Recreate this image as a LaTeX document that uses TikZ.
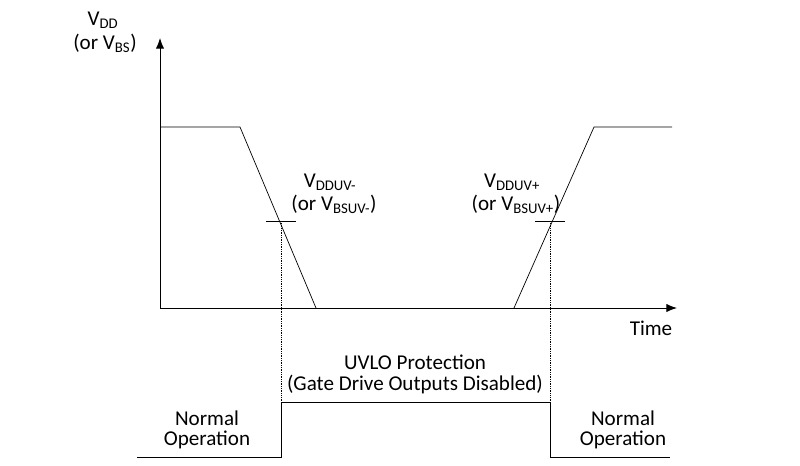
\documentclass[tikz,border=0pt]{standalone}
\usepackage{fontspec}
\setmainfont{Carlito}
\usetikzlibrary{arrows.meta}
\begin{document}
\begin{tikzpicture}[x=0.03cm,y=-0.03cm,
  lbl/.style={inner sep=0pt,font=\fontsize{18}{21}\selectfont},
  axis/.style={thick,-{Latex[length=9pt,width=7pt]}},
  wave/.style={line width=0.6pt},
  guide/.style={densely dotted,line width=0.5pt}]
			\useasboundingbox (0,0) rectangle (800,465);
			% axes
			\coordinate (o) at (160,308);
			\draw[axis] (o) -- (160,38);
			\draw[axis] (o) -- (677,308);
			\node[lbl] (vdd) at (103,20) {V\textsubscript{DD}};
			\node[lbl] (vbs) at (105,43) {(or V\textsubscript{BS})};
			\node[lbl] (time) at (651,328) {Time};

			% supply waveform
			\draw[wave] (160,127) -- (240,127) -- (316,308);
			\draw[wave] (514,308) -- (594,127) -- (672,127);
			\coordinate (thm) at (281,221);
			\coordinate (thp) at (550,221);
			\draw[wave] (266,221) -- (296,221);
			\draw[wave] (535,221) -- (565,221);
			\node[lbl] (uvm) at (330,182) {V\textsubscript{DDUV-}};
			\node[lbl] (uvmb) at (334,204) {(or V\textsubscript{BSUV-})};
			\node[lbl] (uvp) at (512,182) {V\textsubscript{DDUV+}};
			\node[lbl] (uvpb) at (516,204) {(or V\textsubscript{BSUV+})};

			% protection state
			\coordinate (up) at (281,402);
			\coordinate (dn) at (550,402);
			\draw[guide] (thm) -- (up);
			\draw[guide] (thp) -- (dn);
			\draw[wave] (137,457) -- (281,457) -- (up) -- (dn) -- (550,457) -- (670,457);
			\node[lbl] (uvlo) at (415,362) {UVLO Protection};
			\node[lbl] (gate) at (415,384) {(Gate Drive Outputs Disabled)};
			\node[lbl] (nl) at (207,418) {Normal};
			\node[lbl] (ol) at (207,440) {Operation};
			\node[lbl] (nr) at (623,418) {Normal};
			\node[lbl] (or) at (623,440) {Operation};
		\end{tikzpicture}
\end{document}
